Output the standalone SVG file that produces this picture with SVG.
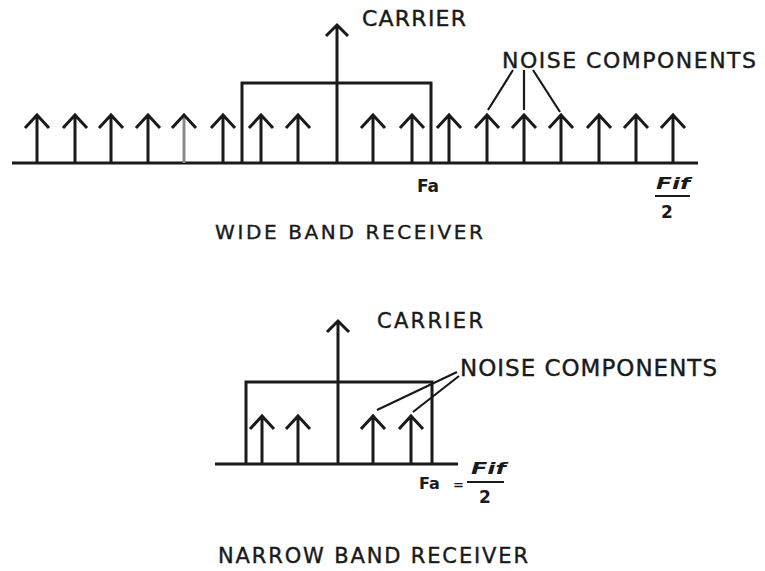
<svg xmlns="http://www.w3.org/2000/svg" xmlns:xlink="http://www.w3.org/1999/xlink" width="765" height="571" viewBox="0 0 765 571">
<style>
.ln{fill:none;stroke:#1a1a1a;stroke-width:3;stroke-linejoin:miter;stroke-linecap:butt}
.thin{fill:none;stroke:#1a1a1a;stroke-width:2.2}
.lbl{font-family:"DejaVu Sans","Liberation Sans",Arial,sans-serif;fill:#1a1a1a;stroke:#1a1a1a;stroke-width:0.4}
.sm{font-family:"DejaVu Sans","Liberation Sans",Arial,sans-serif;font-weight:bold;fill:#1a1a1a}
</style>
<defs>
<path id="na" class="ln" d="M0,0 V-48 M-12,-35 L0,-48 L12,-35"/>
</defs>
<rect width="765" height="571" fill="#fff"/>

<g id="wide-band">
  <g id="wide-axis"><path class="ln" d="M12,163 H698"/></g>
  <g id="wide-passband"><path class="ln" d="M242,163 V83 H431 V163"/></g>
  <g id="wide-carrier"><path class="ln" d="M337,163 V25 M326,36 L337,25 L348,36"/></g>
  <g id="wide-noise">
    <use xlink:href="#na" x="37" y="163"/>
    <use xlink:href="#na" x="75" y="163"/>
    <use xlink:href="#na" x="111" y="163"/>
    <use xlink:href="#na" x="148" y="163"/>
    <path class="ln" d="M184,163 V117" style="stroke:#8a8a8a"/>
    <path class="ln" d="M172,128 L184,115 L196,128"/>
    <use xlink:href="#na" x="223" y="163"/>
    <use xlink:href="#na" x="261" y="163"/>
    <use xlink:href="#na" x="298" y="163"/>
    <use xlink:href="#na" x="373" y="163"/>
    <use xlink:href="#na" x="412" y="163"/>
    <use xlink:href="#na" x="449" y="163"/>
    <use xlink:href="#na" x="487" y="163"/>
    <use xlink:href="#na" x="524" y="163"/>
    <use xlink:href="#na" x="561" y="163"/>
    <use xlink:href="#na" x="599" y="163"/>
    <use xlink:href="#na" x="636" y="163"/>
    <use xlink:href="#na" x="673" y="163"/>
  </g>
  <g id="wide-labels">
    <text class="lbl" x="362" y="26" font-size="22" textLength="104" lengthAdjust="spacing">CARRIER</text>
    <text class="lbl" x="502" y="68" font-size="22" textLength="254" lengthAdjust="spacing">NOISE COMPONENTS</text>
    <text class="sm" x="417" y="192" font-size="17">Fa</text>
    <text class="sm" x="656" y="189" font-size="16" font-style="italic" textLength="34" lengthAdjust="spacingAndGlyphs">Fif</text>
    <path class="thin" d="M655,196 H690"/>
    <text class="sm" x="661" y="218" font-size="17">2</text>
    <text class="lbl" x="215" y="239" font-size="20" textLength="268" lengthAdjust="spacing">WIDE BAND RECEIVER</text>
  </g>
</g>

<g id="narrow-band">
  <g id="narrow-axis"><path class="ln" d="M215,464 H458"/></g>
  <g id="narrow-passband"><path class="ln" d="M246,464 V382 H432 V464"/></g>
  <g id="narrow-carrier"><path class="ln" d="M338,464 V321 M327,332 L338,321 L349,332"/></g>
  <g id="narrow-noise">
    <use xlink:href="#na" x="262" y="464"/>
    <use xlink:href="#na" x="298" y="464"/>
    <use xlink:href="#na" x="373" y="464"/>
    <use xlink:href="#na" x="411" y="464"/>
  </g>
  <g id="narrow-labels">
    <text class="lbl" x="377" y="328" font-size="21" textLength="106" lengthAdjust="spacing">CARRIER</text>
    <text class="lbl" x="460" y="376" font-size="23" textLength="257" lengthAdjust="spacing">NOISE COMPONENTS</text>
    <text class="sm" x="419" y="489" font-size="16">Fa</text>
    <text class="sm" x="453" y="489" font-size="13">=</text>
    <text class="sm" x="471" y="474" font-size="16" font-style="italic" textLength="35" lengthAdjust="spacingAndGlyphs">Fif</text>
    <path class="thin" d="M467,482 H504"/>
    <text class="sm" x="479" y="503" font-size="17">2</text>
    <text class="lbl" x="218" y="563" font-size="21" textLength="310" lengthAdjust="spacing">NARROW BAND RECEIVER</text>
  </g>
</g>

<g id="connectors">
  <path class="thin" d="M513,70 L488,110 M524,70 V110 M533,70 L560,112"/>
  <path class="thin" d="M457,372 L377,410 M459,376 L413,412"/>
</g>
</svg>
